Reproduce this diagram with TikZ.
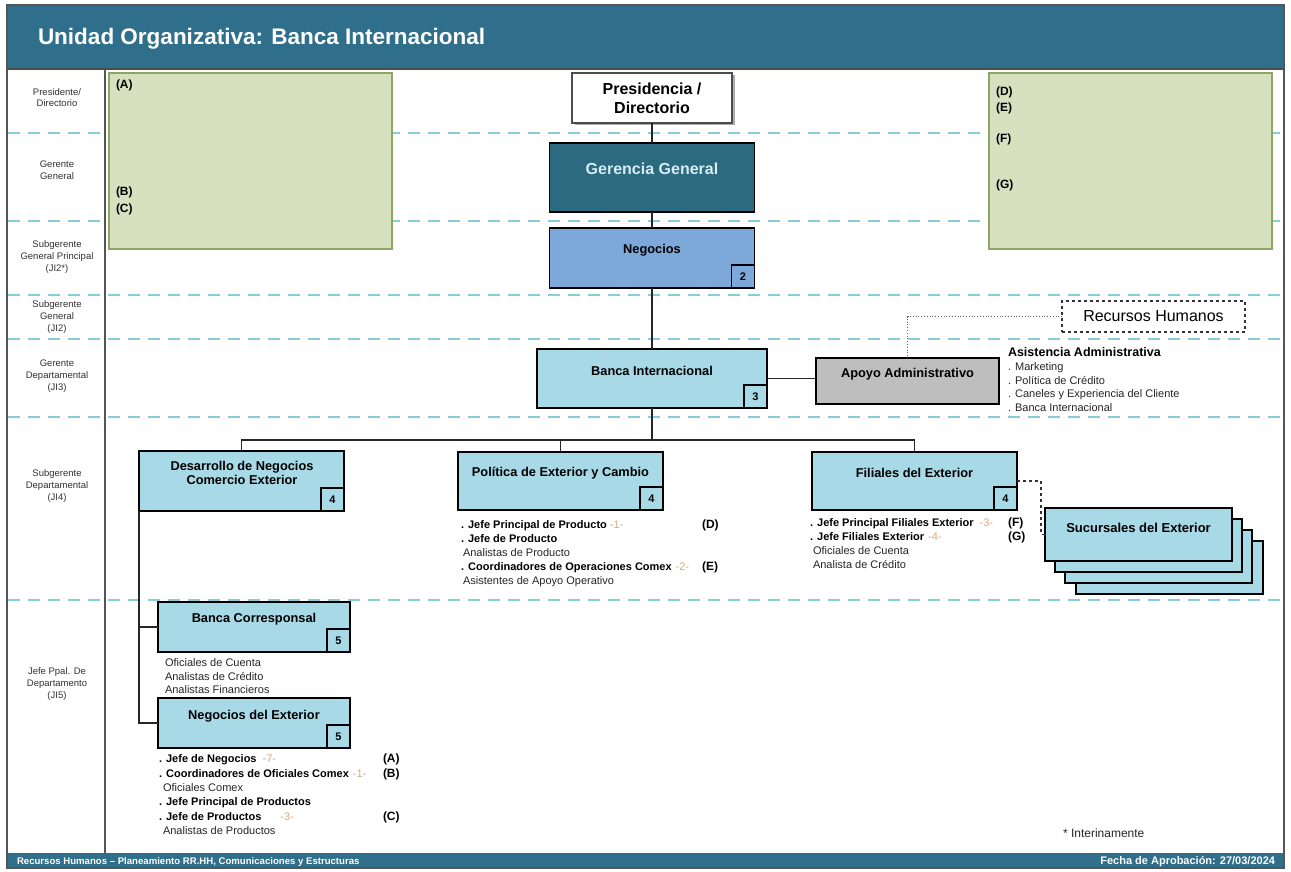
\documentclass[tikz,border=0pt]{standalone}
\usepackage{fontspec}
\setmainfont{Liberation Sans}
\usetikzlibrary{shadows}
\definecolor{hdr}{RGB}{47,111,139}
\definecolor{ggfill}{RGB}{44,106,128}
\definecolor{ggtxt}{RGB}{215,236,243}
\definecolor{negblue}{RGB}{125,168,218}
\definecolor{ltblue}{RGB}{167,217,231}
\definecolor{grayfill}{RGB}{190,190,190}
\definecolor{greenfill}{RGB}{215,225,192}
\definecolor{greenline}{RGB}{143,165,99}
\definecolor{dashblue}{RGB}{137,205,220}
\definecolor{tannum}{RGB}{214,170,125}
\definecolor{lbl}{RGB}{50,50,50}
\definecolor{framecol}{RGB}{85,85,85}
\newcommand{\fs}[2]{\fontsize{#1}{#2}\selectfont}
\newcommand{\orn}[1]{{\mdseries\color{tannum}#1}}
\begin{document}
\begin{tikzpicture}[x=1pt,y=-1pt,
  every node/.style={inner sep=0pt,outer sep=0pt},
  unit/.style={draw=black,line width=1.6pt,fill=ltblue},
  numbox/.style={draw=black,line width=1.6pt,fill=ltblue,minimum width=23,minimum height=23,anchor=south east,font=\bfseries\fs{11}{13}},
  boxlbl/.style={font=\bfseries\fs{12.8}{14.5},align=center},
  lvl/.style={font=\fs{9.5}{11.7},align=center,text=lbl},
  lst/.style={anchor=base west,font=\fs{11}{13},text=black!85},
  lstb/.style={anchor=base west,font=\bfseries\fs{11}{13}},
  tag/.style={anchor=base west,font=\bfseries\fs{12}{14}},
  conn/.style={line width=1.2pt,draw=black!85},
  dashline/.style={draw=dashblue,line width=1.6pt,dash pattern=on 12pt off 8pt},
  greenbox/.style={draw=greenline,line width=1.6pt,fill=greenfill,minimum width=283,minimum height=176},
]
\useasboundingbox (0,0) rectangle (1291,872);
\fill[white] (0,0) rectangle (1291,872);

% header and footer
\fill[hdr] (7,5) rectangle (1284,69);
\fill[hdr] (7,853) rectangle (1284,868);
\draw[framecol,line width=1.5pt] (7,5) rectangle (1284,868);
\draw[black!70,line width=1.2pt] (7,69) -- (1284,69);
\node[anchor=base west,font=\bfseries\fs{22.5}{26},text=white] (title) at (38,45) {Unidad Organizativa: Banca Internacional};
\node[anchor=base west,font=\bfseries\fs{9.6}{11},text=white] (foot1) at (17,864) {Recursos Humanos -- Planeamiento RR.HH, Comunicaciones y Estructuras};
\node[anchor=base east,font=\bfseries\fs{11}{12},text=white] (foot2) at (1275,864.5) {Fecha de Aprobación: 27/03/2024};

% level separators
\foreach \yy in {133,221,295,339,417,600} \draw[dashline] (8,\yy) -- (1283,\yy);
\draw[framecol,line width=1.5pt] (105,69) -- (105,853);

% level labels
\node[lvl] (l1) at (57,97.5) {Presidente/\\Directorio};
\node[lvl] (l2) at (57,170.5) {Gerente\\General};
\node[lvl] (l3) at (57,257) {Subgerente\\General Principal\\(JI2*)};
\node[lvl] (l4) at (57,317) {Subgerente\\General\\(JI2)};
\node[lvl] (l5) at (57,376) {Gerente\\Departamental\\(JI3)};
\node[lvl] (l6) at (57,486) {Subgerente\\Departamental\\(JI4)};
\node[lvl] (l7) at (57,684) {Jefe Ppal. De\\Departamento\\(JI5)};

% green boxes
\node[greenbox] (gA) at (250.5,161) {};
\node[greenbox] (gD) at (1130.5,161) {};
\node[tag] (ta) at (116,89) {(A)};
\node[tag] (tb) at (116,196) {(B)};
\node[tag] (tc) at (116,212) {(C)};
\node[tag] (td) at (996,96) {(D)};
\node[tag] (te) at (996,112) {(E)};
\node[tag] (tf) at (996,143) {(F)};
\node[tag] (tg) at (996,189) {(G)};

% top chain
\node[draw=black!70,line width=1.2pt,fill=white,minimum width=160,minimum height=50,
  drop shadow={shadow xshift=2.5pt,shadow yshift=-2.5pt,fill=black!55,opacity=0.6},
  font=\bfseries\fs{16}{19},align=center] (pres) at (652,98) {Presidencia /\\Directorio};
\node[draw=black,line width=1.6pt,fill=ggfill,minimum width=205,minimum height=69] (gg) at (652,177.5) {};
\node[font=\bfseries\fs{16}{18},text=ggtxt] (gglbl) at (652,169) {Gerencia General};
\node[unit,fill=negblue,minimum width=205,minimum height=60] (neg) at (652,258) {};
\node[boxlbl] (neglbl) at (652,250) {Negocios};
\node[numbox,fill=negblue] (n2) at (neg.south east) {2};

\node[unit,minimum width=230,minimum height=59] (bi) at (652,378.5) {};
\node[boxlbl] (bilbl) at (652,371) {Banca Internacional};
\node[numbox] (n3) at (bi.south east) {3};

\node[unit,fill=grayfill,minimum width=183,minimum height=46] (apoyo) at (907.5,381) {};
\node[boxlbl] (apoyolbl) at (907.5,374) {Apoyo Administrativo};

\node[draw=black!80,line width=1.2pt,dashed,fill=white,minimum width=183,minimum height=31,font=\fs{16}{18}] (rh) at (1153.5,316.5) {Recursos Humanos};

\node[anchor=base west,font=\bfseries\fs{12.5}{14}] (asis) at (1008,356.5) {Asistencia Administrativa};
\node[lst] (as1) at (1008,370) {. Marketing};
\node[lst] (as2) at (1008,384) {. Política de Crédito};
\node[lst] (as3) at (1008,397) {. Caneles y Experiencia del Cliente};
\node[lst] (as4) at (1008,411) {. Banca Internacional};

% JI4 level
\node[unit,minimum width=205,minimum height=60] (dnce) at (241.5,481) {};
\node[boxlbl] (dncelbl) at (242,473) {Desarrollo de Negocios\\Comercio Exterior};
\node[numbox] (n4a) at (dnce.south east) {4};

\node[unit,minimum width=205,minimum height=58] (pec) at (560.5,481) {};
\node[boxlbl] (peclbl) at (560.5,473) {Política de Exterior y Cambio};
\node[numbox] (n4b) at (pec.south east) {4};

\node[unit,minimum width=205,minimum height=58] (fil) at (914.5,481) {};
\node[boxlbl] (fillbl) at (914.5,473) {Filiales del Exterior};
\node[numbox] (n4c) at (fil.south east) {4};

\node[unit,minimum width=187,minimum height=53] (suc4) at (1169.5,567.5) {};
\node[unit,minimum width=187,minimum height=53] (suc3) at (1158.5,556.5) {};
\node[unit,minimum width=187,minimum height=53] (suc2) at (1148.5,545.5) {};
\node[unit,minimum width=187,minimum height=53] (suc1) at (1138.5,534.5) {};
\node[boxlbl,font=\bfseries\fs{13}{15}] (suclbl) at (1138.5,528) {Sucursales del Exterior};

% Politica list
\node[lstb] (p1) at (461,528) {. Jefe Principal de Producto\hspace{3pt}\orn{-1-}};
\node[lstb] (p2) at (461,542) {. Jefe de Producto};
\node[lst] (p3) at (463,556) {Analistas de Producto};
\node[lstb] (p4) at (461,570) {. Coordinadores de Operaciones Comex\hspace{4pt}\orn{-2-}};
\node[lst] (p5) at (463,584) {Asistentes de Apoyo Operativo};
\node[tag] (pd) at (702,528) {(D)};
\node[tag] (pe) at (702,570) {(E)};

% Filiales list
\node[lstb] (f1) at (810,526) {. Jefe Principal Filiales Exterior\hspace{6pt}\orn{-3-}};
\node[lstb] (f2) at (810,540) {. Jefe Filiales Exterior\hspace{4pt}\orn{-4-}};
\node[lst] (f3) at (813,554) {Oficiales de Cuenta};
\node[lst] (f4) at (813,568) {Analista de Crédito};
\node[tag] (ff) at (1008,526) {(F)};
\node[tag] (fg) at (1008,540) {(G)};

% JI5 level
\node[unit,minimum width=192,minimum height=50] (bc) at (254,627) {};
\node[boxlbl] (bclbl) at (254,619) {Banca Corresponsal};
\node[numbox] (n5a) at (bc.south east) {5};
\node[lst] (b1) at (165,666) {Oficiales de Cuenta};
\node[lst] (b2) at (165,680) {Analistas de Crédito};
\node[lst] (b3) at (165,693) {Analistas Financieros};

\node[unit,minimum width=192,minimum height=50] (ne) at (254,723) {};
\node[boxlbl] (nelbl) at (254,716) {Negocios del Exterior};
\node[numbox] (n5b) at (ne.south east) {5};

\node[lstb] (e1) at (159,762) {. Jefe de Negocios\hspace{6pt}\orn{-7-}};
\node[lstb] (e2) at (159,777) {. Coordinadores de Oficiales Comex\hspace{4pt}\orn{-1-}};
\node[lst] (e3) at (163,791) {Oficiales Comex};
\node[lstb] (e4) at (159,805) {. Jefe Principal de Productos};
\node[lstb] (e5) at (159,820) {. Jefe de Productos\hspace{19pt}\orn{-3-}};
\node[lst] (e6) at (163,834) {Analistas de Productos};
\node[tag] (ea) at (383,762) {(A)};
\node[tag] (eb) at (383,777) {(B)};
\node[tag] (ec) at (383,820) {(C)};

\node[anchor=base west,font=\fs{12}{14},text=black!85] (inter) at (1063,837) {* Interinamente};

% connectors
\draw[conn] (pres.south) -- (gg.north);
\draw[conn] (gg.south) -- (neg.north);
\draw[conn] (neg.south) -- (bi.north);
\coordinate (hb) at (652,440);
\draw[conn] (bi.south) -- (hb);
\draw[conn] (dnce.north) -- (dnce.north |- hb) -- (fil.north |- hb) -- (fil.north);
\draw[conn] (pec.north) -- (pec.north |- hb);
\draw[conn] (bi.east) -- (bi.east -| apoyo.west);
\draw[black!60,line width=0.8pt,dotted] (rh.west) -| (apoyo.north);
\coordinate (fsc) at (1041,500);
\draw[black!80,line width=1.2pt,dashed] (fil.east) -| (fsc) |- (suc1.west);
\draw[conn] (dnce.south west) |- (bc.west);
\draw[conn] (dnce.south west) |- (ne.west);
\end{tikzpicture}
\end{document}
